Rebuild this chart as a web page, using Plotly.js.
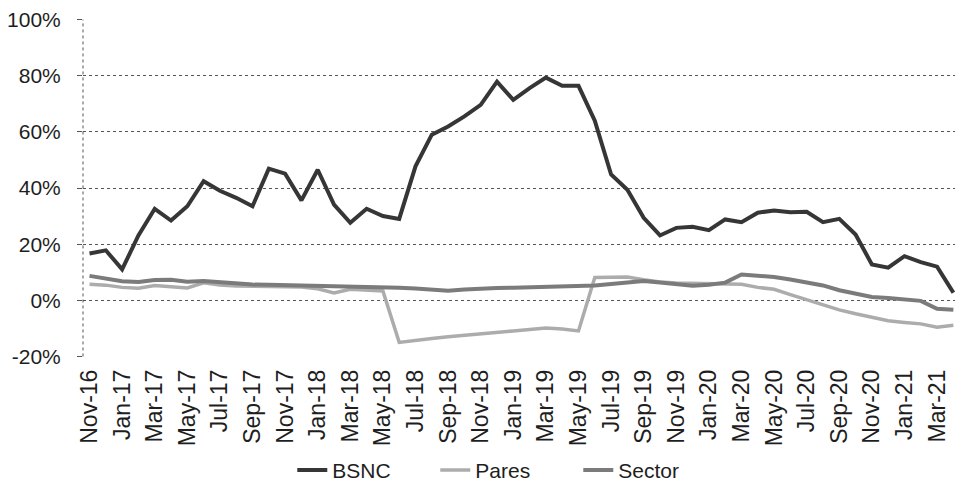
<!DOCTYPE html>
<html>
<head>
<meta charset="utf-8">
<script src="https://cdn.plot.ly/plotly-3.0.1.min.js"></script>
<style>
  html, body { margin: 0; padding: 0; background: #ffffff; }
  #chart { width: 955px; height: 497px; }
</style>
</head>
<body>
<div id="chart"></div>
<script>
// Monthly periods, Nov-16 through Apr-21
const months = [
  'Nov-16','Dec-16','Jan-17','Feb-17','Mar-17','Apr-17','May-17','Jun-17','Jul-17','Aug-17',
  'Sep-17','Oct-17','Nov-17','Dec-17','Jan-18','Feb-18','Mar-18','Apr-18','May-18','Jun-18',
  'Jul-18','Aug-18','Sep-18','Oct-18','Nov-18','Dec-18','Jan-19','Feb-19','Mar-19','Apr-19',
  'May-19','Jun-19','Jul-19','Aug-19','Sep-19','Oct-19','Nov-19','Dec-19','Jan-20','Feb-20',
  'Mar-20','Apr-20','May-20','Jun-20','Jul-20','Aug-20','Sep-20','Oct-20','Nov-20','Dec-20',
  'Jan-21','Feb-21','Mar-21','Apr-21'
];

// Series values, in percent
const bsnc = [
  16.7, 17.8, 11.0, 23.1, 32.6, 28.4, 33.5, 42.4, 39.0, 36.5,
  33.5, 46.9, 45.1, 35.6, 46.5, 34.1, 27.6, 32.6, 30.0, 29.0,
  47.7, 59.0, 61.9, 65.5, 69.6, 77.9, 71.4, 75.6, 79.3, 76.4,
  76.4, 64.0, 44.8, 39.4, 29.4, 23.1, 25.8, 26.2, 25.0, 28.8,
  27.8, 31.2, 32.0, 31.4, 31.5, 27.8, 29.0, 23.4, 12.8, 11.6,
  15.7, 13.6, 12.0, 2.7
];
const pares = [
  5.7, 5.4, 4.6, 4.3, 5.3, 5.0, 4.4, 6.2, 5.4, 5.1,
  5.0, 4.9, 4.8, 4.7, 4.1, 2.6, 3.9, 3.6, 3.3, -15.0,
  -14.2, -13.6, -13.0, -12.4, -11.8, -11.2, -10.9, -10.4, -9.9, -10.2,
  -10.9, 8.1, 8.2, 8.3, 7.3, 6.5, 6.2, 6.1, 6.2, 6.1,
  5.7, 4.6, 3.9, 2.0, 0.2, -1.8, -3.4, -4.8, -6.0, -7.3,
  -7.9, -8.4, -9.6, -8.9
];
const sector = [
  8.7, 7.8, 6.8, 6.5, 7.2, 7.3, 6.6, 6.9, 6.5, 5.8,
  5.6, 5.5, 5.4, 5.2, 5.1, 5.1, 5.0, 4.9, 4.8, 4.5,
  4.2, 3.8, 3.4, 3.8, 4.2, 4.4, 4.5, 4.6, 4.7, 4.9,
  5.1, 5.3, 5.8, 6.4, 6.9, 6.3, 5.7, 5.2, 5.5, 6.3,
  9.2, 8.9, 8.3, 7.4, 6.5, 5.3, 3.6, 2.5, 1.2, 0.8,
  0.4, -0.2, -3.0, -3.4
];

// Axis tick labels
const yTickVals = [-20, 0, 20, 40, 60, 80, 100];
const yTickText = ['-20%', '0%', '20%', '40%', '60%', '80%', '100%'];
const xTickVals = months.filter((m, i) => i % 2 === 0);

const FONT = '"Liberation Sans", Arial, sans-serif';

const traces = [
  { name: 'BSNC', x: months, y: bsnc, type: 'scatter', mode: 'lines',
    line: { color: '#363636', width: 4 } },
  { name: 'Pares', x: months, y: pares, type: 'scatter', mode: 'lines',
    line: { color: '#acacac', width: 3.5 } },
  { name: 'Sector', x: months, y: sector, type: 'scatter', mode: 'lines',
    line: { color: '#7b7b7b', width: 4 } }
];

const layout = {
  width: 955,
  height: 497,
  margin: { l: 83, r: 0, t: 19, b: 140 },
  paper_bgcolor: '#ffffff',
  plot_bgcolor: '#ffffff',
  font: { family: FONT, color: '#1e1e1e' },
  showlegend: true,
  legend: {
    orientation: 'h',
    x: 0.24, xanchor: 'left',
    y: -0.335, yanchor: 'middle',
    font: { family: FONT, size: 21, color: '#1e1e1e' },
    bgcolor: 'rgba(0,0,0,0)',
    entrywidth: 98,
    entrywidthmode: 'pixels'
  },
  xaxis: {
    type: 'category',
    range: [-0.4, 53.1],
    tickmode: 'array',
    tickvals: xTickVals,
    ticktext: xTickVals,
    tickangle: -90,
    tickfont: { family: FONT, size: 23, color: '#1e1e1e' },
    ticklabelstandoff: 7,
    showgrid: false,
    zeroline: false,
    showline: false,
    ticks: ''
  },
  yaxis: {
    range: [-20.2, 100.2],
    tickmode: 'array',
    tickvals: yTickVals,
    ticktext: yTickText,
    tickfont: { family: FONT, size: 21, color: '#1e1e1e' },
    ticks: 'outside',
    ticklen: 5,
    tickcolor: '#555555',
    ticklabelstandoff: 12,
    showgrid: true,
    gridcolor: '#555555',
    griddash: 'dot',
    gridwidth: 1,
    zeroline: false,
    showline: false
  },
  shapes: [
    // dotted vertical axis line on the left edge of the plot
    { type: 'line', xref: 'paper', yref: 'y', x0: 0, x1: 0, y0: -20, y1: 100,
      line: { color: '#555555', width: 1, dash: 'dot' } }
  ]
};

Plotly.newPlot('chart', traces, layout, { displayModeBar: false, staticPlot: true });
</script>
</body>
</html>
